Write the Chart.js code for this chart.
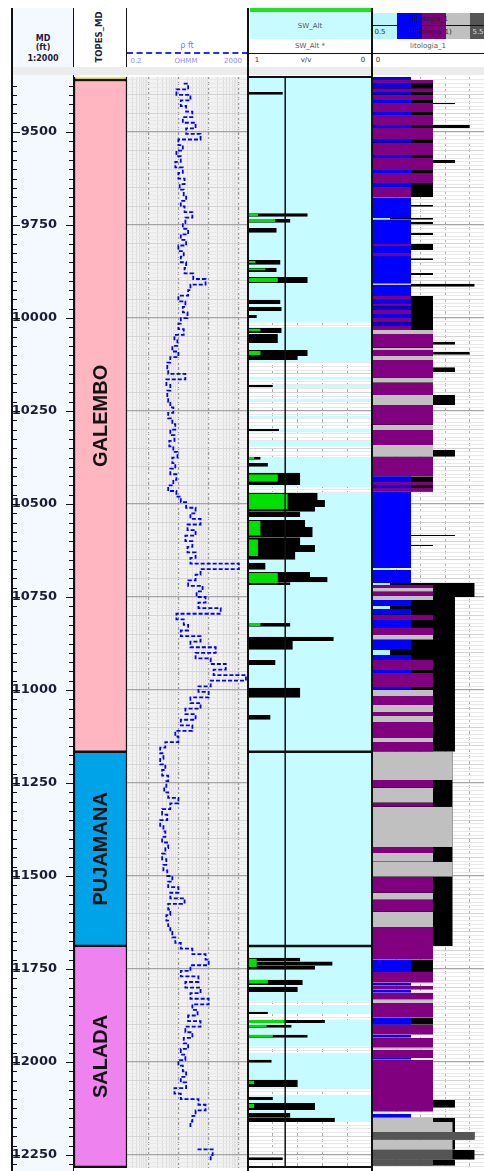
<!DOCTYPE html>
<html>
<head>
<meta charset="utf-8">
<title>Registro de pozo</title>
<script src="https://cdn.jsdelivr.net/npm/chart.js@4.4.1/dist/chart.umd.min.js"></script>
<style>
  html, body { margin: 0; padding: 0; }
  body { width: 484px; height: 1171px; overflow: hidden; position: relative; background: #fff;
         font-family: "DejaVu Sans", Verdana, sans-serif; }
  .a { position: absolute; }
  .t { position: absolute; white-space: nowrap; transform: translate(-50%, -50%); line-height: 1; }
  canvas { display: block; }
</style>
</head>
<body>
<!-- header boxes -->
<div class="a" style="left:12px;top:8px;width:62px;height:1163px;background:#f4f8ff"></div>
<div class="a" style="left:12px;top:67px;width:472px;height:8px;background:#ececec"></div>
<div class="a" style="left:250px;top:8px;width:121px;height:4px;background:#1ee51e"></div>
<div class="a" style="left:250px;top:12px;width:121px;height:27px;background:#c8fbff"></div>
<div class="a" style="left:373px;top:13px;width:24px;height:26px;background:#b8f5fd"></div>
<div class="a" style="left:397px;top:13px;width:25px;height:26px;background:#0000ff"></div>
<div class="a" style="left:422px;top:13px;width:24px;height:26px;background:#800080"></div>
<div class="a" style="left:446px;top:13px;width:24px;height:26px;background:#c0c0c0"></div>
<div class="a" style="left:470px;top:13px;width:24px;height:26px;background:#555"></div>
<div class="a" style="left:372px;top:25px;width:112px;height:1px;background:#111"></div>
<div class="a" style="left:127px;top:52px;width:121px;height:0;border-top:2px dashed #2a2aff"></div>
<div class="a" style="left:248px;top:53px;width:236px;height:1px;background:#111"></div>

<div class="t" style="left:43px;top:39px;font-size:8px;font-weight:bold;color:#1c1c3c">MD</div>
<div class="t" style="left:43px;top:48px;font-size:8px;font-weight:bold;color:#1c1c3c">(ft)</div>
<div class="t" style="left:43px;top:59px;font-size:8px;font-weight:bold;color:#1c1c3c">1:2000</div>
<div class="t" style="left:99px;top:37px;font-size:8.5px;font-weight:bold;color:#1c1c3c;transform:translate(-50%,-50%) rotate(-90deg)">TOPES_MD</div>
<div class="t" style="left:187px;top:46px;font-size:8px;color:#7a7aff">ρ ft</div>
<div class="t" style="left:136px;top:61px;font-size:7px;color:#8c8cff">0.2</div>
<div class="t" style="left:186px;top:61px;font-size:7px;color:#8c8cff">OHMM</div>
<div class="t" style="left:233px;top:61px;font-size:7px;color:#8c8cff">2000</div>
<div class="t" style="left:310px;top:26px;font-size:7px;color:#555">SW_Alt</div>
<div class="t" style="left:310px;top:46px;font-size:7px;color:#555">SW_Alt *</div>
<div class="t" style="left:257px;top:60px;font-size:7px;color:#333">1</div>
<div class="t" style="left:306px;top:60px;font-size:7px;color:#333">v/v</div>
<div class="t" style="left:363px;top:60px;font-size:7px;color:#333">0</div>
<div class="t" style="left:430px;top:19px;font-size:7px;color:#222">litologia_1</div>
<div class="t" style="left:431px;top:32px;font-size:7px;color:#222">(litologia_1)</div>
<div class="t" style="left:380px;top:32px;font-size:7px;color:#333">0.5</div>
<div class="t" style="left:478px;top:32px;font-size:7px;color:#ddd">5.5</div>
<div class="t" style="left:428px;top:46px;font-size:7px;color:#555">litologia_1</div>
<div class="t" style="left:378px;top:60px;font-size:7px;color:#333">0</div>

<!-- tracks -->
<div class="a" style="left:12px;top:75px"><canvas id="depthChart" width="62" height="1096"></canvas></div>
<div class="a" style="left:74px;top:75px"><canvas id="topsChart" width="53" height="1096"></canvas></div>
<div class="a" style="left:127px;top:75px"><canvas id="resChart" width="121" height="1096"></canvas></div>
<div class="a" style="left:248px;top:75px"><canvas id="swChart" width="124" height="1096"></canvas></div>
<div class="a" style="left:372px;top:75px"><canvas id="lithoChart" width="122" height="1096"></canvas></div>

<!-- track borders -->
<div class="a" style="left:11px;top:8px;width:2px;height:1163px;background:#111"></div>
<div class="a" style="left:73px;top:8px;width:1px;height:59px;background:#111"></div>
<div class="a" style="left:126px;top:8px;width:1px;height:59px;background:#111"></div>
<div class="a" style="left:247px;top:8px;width:2px;height:1163px;background:#111"></div>
<div class="a" style="left:371px;top:8px;width:2px;height:1163px;background:#111"></div>
<div class="a" style="left:248px;top:76px;width:124px;height:2px;background:#111"></div>
<div class="a" style="left:248px;top:1166px;width:124px;height:2px;background:#111"></div>

<script>
// depth range shown in the tracks (ft)
const DEPTH_TOP = 9352;
const DEPTH_BASE = 12285;
const depthLabels = [9500, 9750, 10000, 10250, 10500, 10750, 11000, 11250, 11500, 11750, 12000, 12250];

// formation tops
const topsNames = ['', 'GALEMBO', 'PUJAMANA', 'SALADA', ''];
const topsTop = [9340, 9360, 11166, 11688, 12282];
const topsBase = [9360, 11166, 11688, 12282, 12300];
const topsColors = ['#ffff00', '#ffb6c1', '#00a2e8', '#ee82ee', '#7ab317'];

// resistivity (ohmm), one reading every 15 ft from 9370 ft
const resStart = 9370;
const resStep = 15;
const resValues = [
  15, 21, 8.6, 25, 12, 18, 29, 14, 37, 18, 54, 10, 14, 8.6, 12, 7.9, 14, 10, 16, 11,
  15, 18, 12, 16, 29, 17, 14, 21, 12, 18, 10, 15, 12, 18, 16, 31, 79, 25, 21, 10,
  17, 14, 20, 12, 10, 15, 7.4, 9.3, 6.3, 10, 5.4, 4.3, 4.6, 17, 4, 5.4, 4.3, 4.6, 5.4, 6.8,
  4.6, 6.3, 7.9, 5.4, 7.4, 5, 6.8, 9.3, 6.3, 7.9, 5.4, 8.6, 6.8, 4.6, 8.6, 12, 18, 37, 25, 54,
  20, 37, 17, 29, 20, 37, 25, 1000, 54, 37, 21, 63, 40, 79, 46, 250, 8.6, 15, 21, 12,
  54, 25, 171, 37, 117, 368, 146, 1710, 117, 46, 100, 25, 54, 17, 37, 12, 29, 7.9, 10, 3.7,
  2.5, 3.2, 2.5, 3.7, 2.9, 4.6, 4, 3.4, 4.6, 10, 5.4, 2.9, 4.3, 2.5, 3.2, 3.7, 2.9, 4.6, 3.7, 2.9,
  4, 3.2, 4.3, 6.3, 4.6, 10, 5.4, 16, 4.6, 5.4, 4, 4.6, 5.4, 6.3, 7.9, 12, 29, 79, 100, 25,
  12, 46, 17, 54, 25, 100, 29, 43, 21, 54, 17, 29, 15, 21, 12, 17, 10, 14, 18, 12,
  18, 7.4, 12, 46, 79, 37, 29, 25, null, null, null, 43, 136, 117
];

// SW_Alt: intervals with data (cyan), bars [top, base, sw] and hydrocarbon flag (green)
const swData = [
  [9352, 10013], [10024, 10118], [10158, 10166], [10180, 10188], [10216, 10226], [10262, 10270],
  [10296, 10308], [10330, 10346], [10373, 10454], [10470, 11838], [11846, 11871], [11887, 11959],
  [11975, 12072], [12088, 12161]
];
const swBars = [
  [9392, 9400, 0.72], [9718, 9728, 0.52], [9734, 9744, 0.66], [9758, 9771, 0.77],
  [9844, 9857, 0.74], [9865, 9876, 0.77], [9890, 9906, 0.52], [9951, 9962, 0.74],
  [9970, 9981, 0.73], [9992, 10000, 0.93], [10027, 10040, 0.73], [10043, 10067, 0.76],
  [10086, 10102, 0.52], [10102, 10113, 0.6], [10180, 10186, 0.8], [10298, 10304, 0.75],
  [10373, 10381, 0.9], [10390, 10400, 0.84], [10416, 10449, 0.58],
  [10470, 10489, 0.44], [10489, 10508, 0.38], [10508, 10521, 0.46], [10521, 10535, 0.58],
  [10543, 10562, 0.54], [10562, 10589, 0.48], [10589, 10610, 0.58], [10610, 10629, 0.46],
  [10629, 10650, 0.62], [10658, 10677, 0.86], [10683, 10696, 0.5], [10696, 10710, 0.36],
  [10710, 10718, 0.66], [10820, 10830, 0.66], [10857, 10868, 0.31], [10868, 10892, 0.64],
  [10919, 10933, 0.78], [10994, 11021, 0.58], [11067, 11080, 0.82],
  [11720, 11730, 0.58], [11730, 11741, 0.32], [11741, 11752, 0.46], [11779, 11793, 0.56],
  [11798, 11812, 0.6], [11865, 11871, 0.84], [11887, 11895, 0.38], [11900, 11908, 0.65],
  [11927, 11935, 0.52], [11994, 12002, 0.81], [12048, 12067, 0.6], [12094, 12102, 0.8],
  [12110, 12129, 0.46], [12137, 12150, 0.66], [12150, 12161, 0.3], [12256, 12264, 0.72]
];
const swGreen = [
  [9718, 9726, 0.92], [9734, 9742, 0.78], [9846, 9852, 0.94], [9866, 9872, 0.86],
  [9892, 9904, 0.76], [10028, 10036, 0.9], [10088, 10100, 0.9], [10373, 10379, 0.95],
  [10420, 10440, 0.76], [10472, 10515, 0.68], [10545, 10585, 0.9], [10595, 10640, 0.92],
  [10685, 10712, 0.76], [10820, 10828, 0.9], [11722, 11745, 0.93], [11779, 11790, 0.84],
  [11887, 11895, 0.7], [11900, 11906, 0.85], [11927, 11933, 0.8], [12050, 12060, 0.95],
  [12112, 12124, 0.95]
];
const swCutoff = 0.7;

// lithology: [top, base, code, value]  (c, b, p, g, d = litho classes)
const lithoRows = [
  [9352, 9360, 'b', 1.6], [9360, 9368, 'p', 2.5], [9368, 9382, 'b', 1.6], [9382, 9392, 'p', 2.5],
  [9392, 9400, 'b', 1.6], [9400, 9414, 'p', 2.5], [9414, 9422, 'b', 1.6], [9422, 9446, 'p', 2.5],
  [9446, 9454, 'b', 1.6], [9454, 9481, 'p', 2.5], [9481, 9489, 'b', 1.6], [9489, 9521, 'p', 2.5],
  [9521, 9529, 'b', 1.6], [9529, 9562, 'p', 2.5], [9562, 9570, 'b', 1.6], [9570, 9602, 'p', 2.5],
  [9602, 9610, 'b', 1.6], [9610, 9637, 'p', 2.5], [9637, 9648, 'b', 1.6], [9648, 9675, 'p', 1.6],
  [9675, 9731, 'b', 1.6], [9731, 9736, 'c', 0.74], [9736, 9801, 'b', 1.6], [9801, 9806, 'p', 1.6],
  [9806, 9825, 'b', 1.6], [9825, 9833, 'p', 1.6], [9833, 9908, 'b', 1.6], [9908, 9911, 'g', 1.6],
  [9911, 9941, 'b', 1.6], [9941, 9951, 'p', 1.6], [9951, 9960, 'b', 1.6], [9960, 9968, 'p', 1.6],
  [9968, 9978, 'b', 1.6], [9978, 9989, 'p', 1.6], [9989, 10000, 'b', 1.6], [10000, 10011, 'p', 1.6],
  [10011, 10021, 'b', 1.6], [10021, 10032, 'p', 1.6], [10032, 10043, 'g', 2.5], [10043, 10080, 'p', 2.5],
  [10080, 10086, 'g', 2.5], [10086, 10102, 'p', 2.5], [10102, 10113, 'g', 2.5], [10113, 10161, 'p', 2.5],
  [10161, 10174, 'g', 2.5], [10174, 10207, 'p', 2.5], [10207, 10234, 'g', 2.5], [10234, 10287, 'p', 2.5],
  [10287, 10301, 'g', 2.5], [10301, 10341, 'p', 2.5], [10341, 10373, 'g', 2.5], [10373, 10425, 'p', 2.5],
  [10425, 10441, 'b', 1.6], [10441, 10449, 'p', 2.5], [10449, 10457, 'b', 1.6], [10457, 10467, 'p', 2.5],
  [10467, 10672, 'b', 1.6], [10672, 10677, 'c', 0.74], [10677, 10712, 'b', 1.6], [10712, 10718, 'c', 0.74],
  [10718, 10726, 'p', 2.5], [10726, 10736, 'g', 2.5], [10736, 10747, 'p', 2.5], [10747, 10758, 'g', 2.5],
  [10758, 10774, 'b', 1.6], [10774, 10782, 'c', 0.74], [10782, 10798, 'b', 1.6], [10798, 10812, 'p', 2.5],
  [10812, 10833, 'b', 1.6], [10833, 10852, 'p', 2.5], [10852, 10865, 'g', 2.5], [10865, 10892, 'b', 1.6],
  [10892, 10906, 'c', 0.74], [10906, 10919, 'b', 1.6], [10919, 10946, 'p', 2.5], [10946, 10954, 'b', 1.6],
  [10954, 10992, 'p', 2.5], [10992, 11000, 'b', 1.6], [11000, 11016, 'g', 2.5], [11016, 11040, 'p', 2.5],
  [11040, 11059, 'g', 2.5], [11059, 11070, 'p', 2.5], [11070, 11086, 'g', 2.5], [11086, 11129, 'p', 2.5],
  [11129, 11140, 'g', 2.5], [11140, 11166, 'p', 2.5], [11166, 11242, 'g', 3.3], [11242, 11263, 'p', 2.5],
  [11263, 11303, 'g', 2.5], [11303, 11314, 'p', 2.5], [11314, 11422, 'g', 3.3], [11422, 11438, 'p', 2.5],
  [11438, 11462, 'g', 2.5], [11462, 11502, 'g', 3.3], [11502, 11545, 'p', 2.5], [11545, 11564, 'g', 2.5],
  [11564, 11596, 'p', 2.5], [11596, 11637, 'g', 2.5], [11637, 11725, 'p', 2.5], [11725, 11739, 'b', 1.6],
  [11739, 11758, 'b', 1.6], [11758, 11787, 'p', 2.5], [11787, 11795, 'b', 1.6], [11795, 11806, 'p', 2.5],
  [11806, 11814, 'b', 1.6], [11814, 11833, 'p', 2.5], [11833, 11841, 'g', 2.5], [11841, 11881, 'p', 2.5],
  [11881, 11900, 'b', 1.6], [11900, 11927, 'p', 2.5], [11927, 11935, 'b', 1.6], [11935, 11962, 'p', 2.5],
  [11962, 11967, 'g', 2.5], [11967, 11989, 'p', 2.5], [11989, 11994, 'b', 1.6], [11994, 12134, 'p', 2.5],
  [12134, 12139, 'c', 0.74], [12139, 12150, 'b', 1.6], [12150, 12161, 'g', 2.5], [12161, 12188, 'g', 3.3],
  [12188, 12209, 'd', 4.2], [12209, 12236, 'g', 3.3], [12236, 12263, 'd', 3.3], [12263, 12279, 'd', 2.5]
];
// black curve behind the litho fill: [top, base, value], sorted, no overlaps
const lithoCurve = [
  [9360, 9422, 2.5], [9422, 9425, 3.4], [9425, 9481, 2.5], [9481, 9489, 4.0], [9489, 9575, 2.5],
  [9575, 9583, 3.4], [9583, 9675, 2.5], [9696, 9701, 2.5], [9731, 9736, 2.5], [9742, 9747, 2.5],
  [9771, 9777, 2.5], [9801, 9817, 2.5], [9839, 9844, 2.5], [9879, 9884, 2.5], [9908, 9916, 4.2],
  [9941, 10064, 2.5], [10064, 10072, 3.4], [10072, 10091, 2.5], [10091, 10099, 4.0],
  [10099, 10132, 2.5], [10132, 10145, 3.4], [10145, 10207, 2.5], [10207, 10234, 3.4],
  [10234, 10355, 2.5], [10355, 10373, 3.4], [10425, 10441, 2.5], [10449, 10467, 2.5],
  [10583, 10586, 3.4], [10610, 10613, 2.5], [10712, 10750, 4.2], [10750, 11166, 3.4],
  [11166, 11688, 3.3], [11725, 11758, 2.5], [11814, 11822, 2.5], [11881, 11900, 2.5],
  [12102, 12123, 3.4], [12150, 12188, 3.4], [12188, 12209, 4.2], [12209, 12236, 3.4],
  [12236, 12263, 4.2], [12263, 12279, 3.4]
];
const lithoColors = { c: '#aef3ff', b: '#0000ff', p: '#800080', g: '#c0c0c0', d: '#555555' };

// ---------- helpers ----------
const depthGrid = [];
for (let d = 9360; d <= 12280; d += 10) depthGrid.push(d);

function rowsToPoints(rows, fixedX) {
  const pts = [];
  rows.forEach(r => {
    const x = fixedX !== undefined ? fixedX : r[2];
    pts.push({ x: x, y: r[0] }, { x: x, y: r[1] }, { x: null, y: r[1] });
  });
  return pts;
}

function depthAxis() {
  return {
    type: 'linear', reverse: true, min: DEPTH_TOP, max: DEPTH_BASE,
    afterBuildTicks: s => { s.ticks = depthGrid.map(v => ({ value: v })); },
    ticks: { display: false },
    grid: {
      drawTicks: false,
      color: c => c.tick.value % 250 === 0 ? '#a4a4a4' : (c.tick.value % 50 === 0 ? '#d4d4d4' : '#e8e8e8'),
      lineWidth: c => c.tick.value % 250 === 0 ? 1.3 : 1
    },
    border: { display: false }
  };
}

const trackBg = {
  id: 'trackBg',
  beforeDraw(chart, args, opts) {
    if (!opts.color) return;
    const { ctx, chartArea: ca } = chart;
    ctx.save();
    ctx.fillStyle = opts.color;
    ctx.fillRect(ca.left, ca.top, ca.width, ca.height);
    ctx.restore();
  }
};

const fillSet = (label, data, color, base, order) => ({
  label, data, order,
  backgroundColor: color, borderColor: 'rgba(0,0,0,0)', borderWidth: 0,
  pointRadius: 0, fill: { value: base }, spanGaps: false
});

const basePlugins = { legend: { display: false }, tooltip: { enabled: false } };
const layout = { autoPadding: false, padding: { top: 2, bottom: 3, left: 0, right: 0 } };

// ---------- depth track ----------
const depthTicks = [];
for (let d = 9375; d <= 12275; d += 25) depthTicks.push(d);

new Chart(document.getElementById('depthChart'), {
  type: 'line',
  data: { datasets: [{ data: [] }] },
  options: {
    responsive: false, animation: false, layout,
    plugins: basePlugins,
    scales: {
      x: { display: false, min: 0, max: 1, type: 'linear' },
      y: {
        type: 'linear', reverse: true, min: DEPTH_TOP, max: DEPTH_BASE, position: 'right',
        afterBuildTicks: s => { s.ticks = depthTicks.map(v => ({ value: v })); },
        afterFit: s => { s.paddingTop = 0; s.paddingBottom = 0; },
        grid: { display: false }, border: { display: false },
        ticks: {
          mirror: true, padding: 14, autoSkip: false, color: '#1b1b3a',
          font: { family: 'DejaVu Sans', size: 13, weight: 'bold' },
          callback: v => depthLabels.includes(v) ? String(v) : ''
        }
      }
    }
  },
  plugins: [{
    id: 'depthMarks',
    afterDraw(chart) {
      const { ctx } = chart;
      const y = chart.scales.y;
      const w = chart.width;
      ctx.save();
      ctx.strokeStyle = '#111';
      ctx.lineWidth = 1;
      depthTicks.forEach(v => {
        const py = Math.round(y.getPixelForValue(v)) + 0.5;
        const len = depthLabels.includes(v) ? 8 : 5;
        ctx.beginPath();
        ctx.moveTo(0, py); ctx.lineTo(len, py);
        ctx.moveTo(w - len, py); ctx.lineTo(w, py);
        ctx.stroke();
      });
      ctx.beginPath();
      ctx.moveTo(w - 0.5, 0); ctx.lineTo(w - 0.5, chart.height);
      ctx.stroke();
      ctx.restore();
    }
  }]
});

// ---------- formation tops ----------
new Chart(document.getElementById('topsChart'), {
  type: 'bar',
  data: {
    labels: ['TOPES_MD'],
    datasets: topsNames.map((n, i) => ({
      label: n, data: [[topsTop[i], topsBase[i]]],
      backgroundColor: topsColors[i], borderColor: '#111', borderWidth: 1.5,
      borderSkipped: false, grouped: false, barPercentage: 1, categoryPercentage: 1
    }))
  },
  options: {
    responsive: false, animation: false, layout,
    plugins: basePlugins,
    scales: {
      x: { display: false },
      y: { type: 'linear', reverse: true, min: DEPTH_TOP, max: DEPTH_BASE, display: false }
    }
  },
  plugins: [{
    id: 'topsLabels',
    afterDatasetsDraw(chart) {
      const { ctx, chartArea: ca } = chart;
      const y = chart.scales.y;
      ctx.save();
      ctx.fillStyle = '#141414';
      ctx.font = 'bold 20px "Liberation Sans", Arial, sans-serif';
      ctx.textAlign = 'center';
      ctx.textBaseline = 'middle';
      topsNames.forEach((n, i) => {
        if (!n) return;
        const py = y.getPixelForValue((topsTop[i] + topsBase[i]) / 2);
        ctx.save();
        ctx.translate((ca.left + ca.right) / 2 + 1, py);
        ctx.rotate(-Math.PI / 2);
        ctx.fillText(n, 0, 0);
        ctx.restore();
      });
      ctx.restore();
    }
  }]
});

// ---------- resistivity ----------
const resTicks = [];
[0.1, 1, 10, 100, 1000].forEach(dec => {
  for (let k = 1; k <= 9; k++) {
    const v = +(dec * k).toPrecision(2);
    if (v >= 0.2 && v <= 2000) resTicks.push(v);
  }
});
const isDecade = v => [1, 10, 100, 1000].includes(v);

new Chart(document.getElementById('resChart'), {
  type: 'line',
  data: {
    datasets: [{
      label: 'ρ ft',
      data: resValues.map((v, i) => ({ x: v, y: resStart + i * resStep })),
      borderColor: '#0000ff', borderWidth: 1.8, borderDash: [4, 2],
      pointRadius: 0, fill: false, spanGaps: false, stepped: true
    }]
  },
  options: {
    responsive: false, animation: false, indexAxis: 'y', layout,
    plugins: Object.assign({ trackBg: { color: '#f2f2f2' } }, basePlugins),
    scales: {
      x: {
        type: 'logarithmic', min: 0.2, max: 2000,
        afterBuildTicks: s => { s.ticks = resTicks.map(v => ({ value: v })); },
        ticks: { display: false },
        grid: {
          drawTicks: false,
          color: c => isDecade(c.tick.value) ? '#9a9a9a' : '#dedede',
          lineWidth: c => isDecade(c.tick.value) ? 1.2 : 1
        },
        border: { display: false, dash: c => isDecade(c.tick && c.tick.value) ? [3, 2] : [] }
      },
      y: depthAxis()
    }
  },
  plugins: [trackBg]
});

// ---------- SW_Alt ----------
const swLines = [
  { label: 'cutoff', data: [{ x: swCutoff, y: DEPTH_TOP }, { x: swCutoff, y: DEPTH_BASE }], width: 1.5 },
  { label: 'PUJAMANA', data: [{ x: 1, y: topsTop[2] }, { x: 0, y: topsTop[2] }], width: 2.5 },
  { label: 'SALADA', data: [{ x: 1, y: topsTop[3] }, { x: 0, y: topsTop[3] }], width: 2.5 }
];

new Chart(document.getElementById('swChart'), {
  type: 'line',
  data: {
    datasets: [
      fillSet('SW_Alt data', rowsToPoints(swData, 1), '#c6fbff', 0, 5),
      fillSet('SW_Alt', rowsToPoints(swBars), '#000000', 1, 4),
      fillSet('flag', rowsToPoints(swGreen), '#00e000', 1, 3)
    ].concat(swLines.map((l, i) => ({
      label: l.label, data: l.data, order: 2 - i * 0.1,
      borderColor: '#111', borderWidth: l.width, pointRadius: 0, fill: false
    })))
  },
  options: {
    responsive: false, animation: false, indexAxis: 'y', layout,
    plugins: basePlugins,
    scales: {
      x: {
        type: 'linear', min: 0, max: 1, reverse: true,
        afterBuildTicks: s => { s.ticks = [0.2, 0.4, 0.6, 0.8].map(v => ({ value: v })); },
        ticks: { display: false },
        grid: { drawTicks: false, color: '#aaaaaa' },
        border: { display: false, dash: [3, 3] }
      },
      y: depthAxis()
    }
  }
});

// ---------- lithology ----------
const lithoSets = Object.keys(lithoColors).map(code =>
  fillSet(code, rowsToPoints(lithoRows.filter(r => r[2] === code).map(r => [r[0], r[1], r[3]])),
    lithoColors[code], 0, 1));

new Chart(document.getElementById('lithoChart'), {
  type: 'line',
  data: {
    datasets: [fillSet('curve', rowsToPoints(lithoCurve), '#000000', 0, 3)].concat(lithoSets)
  },
  options: {
    responsive: false, animation: false, indexAxis: 'y', layout,
    plugins: basePlugins,
    scales: {
      x: {
        type: 'linear', min: 0, max: 5,
        afterBuildTicks: s => { s.ticks = [1, 2, 3, 4].map(v => ({ value: v })); },
        ticks: { display: false },
        grid: { drawTicks: false, color: '#b0b0b0' },
        border: { display: false, dash: [3, 3] }
      },
      y: depthAxis()
    }
  }
});
</script>
</body>
</html>
